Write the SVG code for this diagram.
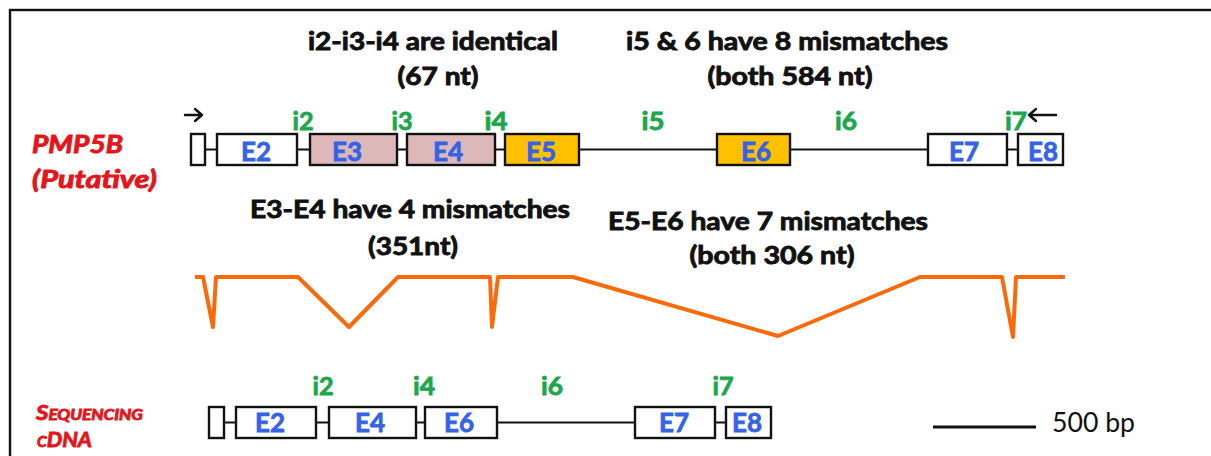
<svg xmlns="http://www.w3.org/2000/svg" width="1211" height="456" viewBox="0 0 1211 456">
  <style>
    text { font-family: Lato, "Liberation Sans", sans-serif; }
    .head { font-size: 25px; font-weight: bold; fill: #111; stroke: #111; stroke-width: 0.9; text-anchor: middle; }
    .intron { font-size: 24px; font-weight: bold; fill: #1DA64C; stroke: #1DA64C; stroke-width: 0.8; text-anchor: middle; }
    .exlab { font-size: 26px; font-weight: bold; fill: #3562E6; stroke: #3562E6; stroke-width: 0.8; text-anchor: middle; }
    .gene { font-weight: bold; font-style: italic; fill: #E3161C; stroke: #E3161C; stroke-width: 0.9; }
    .ex { fill: #fff; stroke: #111; stroke-width: 2.4; }
    .pink { fill: #DDB8B8; }
    .gold { fill: #FFC000; }
    .backbone { stroke: #111; stroke-width: 2; fill: none; }
    .splice { fill: none; stroke: #FA6A0A; stroke-width: 4; stroke-linejoin: round; }
    .primer { fill: none; stroke: #111; stroke-width: 2.4; stroke-linecap: round; stroke-linejoin: round; }
  </style>

  <!-- outer frame (runs past the right and bottom edges) -->
  <rect x="10" y="10" width="1300" height="500" fill="none" stroke="#111" stroke-width="2.4"/>

  <!-- headings -->
  <g id="notes">
    <text class="head" x="433" y="50" textLength="250" lengthAdjust="spacingAndGlyphs">i2-i3-i4 are identical</text>
    <text class="head" x="438" y="85" textLength="81" lengthAdjust="spacingAndGlyphs">(67 nt)</text>
    <text class="head" x="787" y="50" textLength="322" lengthAdjust="spacingAndGlyphs">i5 &amp; 6 have 8 mismatches</text>
    <text class="head" x="790" y="85" textLength="165" lengthAdjust="spacingAndGlyphs">(both 584 nt)</text>
    <text class="head" x="410" y="218" textLength="320" lengthAdjust="spacingAndGlyphs">E3-E4 have 4 mismatches</text>
    <text class="head" x="413" y="255" textLength="90" lengthAdjust="spacingAndGlyphs">(351nt)</text>
    <text class="head" x="768" y="230" textLength="320" lengthAdjust="spacingAndGlyphs">E5-E6 have 7 mismatches</text>
    <text class="head" x="772" y="264" textLength="165" lengthAdjust="spacingAndGlyphs">(both 306 nt)</text>
  </g>

  <!-- putative gene model -->
  <g id="pmp5b-label">
    <text class="gene" x="32" y="153" font-size="24" textLength="91" lengthAdjust="spacingAndGlyphs">PMP5B</text>
    <text class="gene" x="32" y="188" font-size="24" textLength="125" lengthAdjust="spacingAndGlyphs">(Putative)</text>
  </g>

  <g id="connectors">
    <line class="backbone" x1="205" y1="149.5" x2="1018" y2="149.5"/>
    <line class="backbone" x1="224" y1="422.5" x2="726" y2="422.5"/>
    <!-- primers -->
    <path class="primer" d="M185,115 H202 M195,109 L202,115 L195,121"/>
    <path class="primer" d="M1056,115 H1029 M1036,109 L1029,115 L1036,121"/>
    <!-- splicing pattern -->
    <polyline class="splice" points="195,277 203,277 213,327 216,277 298,277 349,327 398,277 490,277 492,327 498,277 573,277 778,336 920,277 1002,277 1013,337 1016,277 1065,277"/>
    <!-- scale bar -->
    <line x1="933" y1="427" x2="1036" y2="427" stroke="#111" stroke-width="3"/>
  </g>

  <g id="putative-exons">
    <g id="p-e1"><rect class="ex" x="191" y="134" width="14" height="31"/></g>
    <g id="p-e2"><rect class="ex" x="217" y="134" width="80" height="31"/><text class="exlab" x="256" y="161">E2</text></g>
    <g id="p-e3"><rect class="ex pink" x="310" y="134" width="87" height="31"/><text class="exlab" x="347" y="161">E3</text></g>
    <g id="p-e4"><rect class="ex pink" x="407" y="134" width="88" height="31"/><text class="exlab" x="448" y="161">E4</text></g>
    <g id="p-e5"><rect class="ex gold" x="505" y="134" width="74" height="31"/><text class="exlab" x="541" y="161">E5</text></g>
    <g id="p-e6"><rect class="ex gold" x="717" y="134" width="73" height="31"/><text class="exlab" x="756" y="161">E6</text></g>
    <g id="p-e7"><rect class="ex" x="928" y="134" width="79" height="31"/><text class="exlab" x="964" y="161">E7</text></g>
    <g id="p-e8"><rect class="ex" x="1018" y="134" width="45" height="31"/><text class="exlab" x="1043" y="161" textLength="30" lengthAdjust="spacingAndGlyphs">E8</text></g>
  </g>

  <g id="putative-introns">
    <text class="intron" x="303" y="130" textLength="21" lengthAdjust="spacingAndGlyphs">i2</text>
    <text class="intron" x="402" y="130" textLength="21" lengthAdjust="spacingAndGlyphs">i3</text>
    <text class="intron" x="496" y="130" textLength="23" lengthAdjust="spacingAndGlyphs">i4</text>
    <text class="intron" x="653" y="130" textLength="23" lengthAdjust="spacingAndGlyphs">i5</text>
    <text class="intron" x="846" y="130" textLength="22" lengthAdjust="spacingAndGlyphs">i6</text>
    <text class="intron" x="1016" y="130" textLength="22" lengthAdjust="spacingAndGlyphs">i7</text>
  </g>

  <!-- sequenced cDNA model -->
  <g id="cdna-label">
    <text class="gene" x="36" y="420" font-size="21" font-variant="small-caps" textLength="107" lengthAdjust="spacingAndGlyphs">Sequencing</text>
    <text class="gene" x="37" y="447" font-size="21" font-variant="small-caps" textLength="55" lengthAdjust="spacingAndGlyphs">cDNA</text>
  </g>

  <g id="cdna-exons">
    <g id="c-e1"><rect class="ex" x="209" y="407" width="15" height="31"/></g>
    <g id="c-e2"><rect class="ex" x="236" y="407" width="80" height="31"/><text class="exlab" x="270" y="432">E2</text></g>
    <g id="c-e4"><rect class="ex" x="329" y="407" width="87" height="31"/><text class="exlab" x="370" y="432">E4</text></g>
    <g id="c-e6"><rect class="ex" x="425" y="407" width="72" height="31"/><text class="exlab" x="459" y="432">E6</text></g>
    <g id="c-e7"><rect class="ex" x="635" y="407" width="80" height="31"/><text class="exlab" x="674" y="432">E7</text></g>
    <g id="c-e8"><rect class="ex" x="726" y="407" width="45" height="31"/><text class="exlab" x="747" y="432" textLength="30" lengthAdjust="spacingAndGlyphs">E8</text></g>
  </g>

  <g id="cdna-introns">
    <text class="intron" x="323" y="395" textLength="21" lengthAdjust="spacingAndGlyphs">i2</text>
    <text class="intron" x="424" y="395" textLength="22" lengthAdjust="spacingAndGlyphs">i4</text>
    <text class="intron" x="552" y="395" textLength="22" lengthAdjust="spacingAndGlyphs">i6</text>
    <text class="intron" x="723" y="395" textLength="21" lengthAdjust="spacingAndGlyphs">i7</text>
  </g>

  <g id="scale">
    <text x="1052" y="432" font-size="26" fill="#111" textLength="83" lengthAdjust="spacingAndGlyphs">500 bp</text>
  </g>
</svg>
